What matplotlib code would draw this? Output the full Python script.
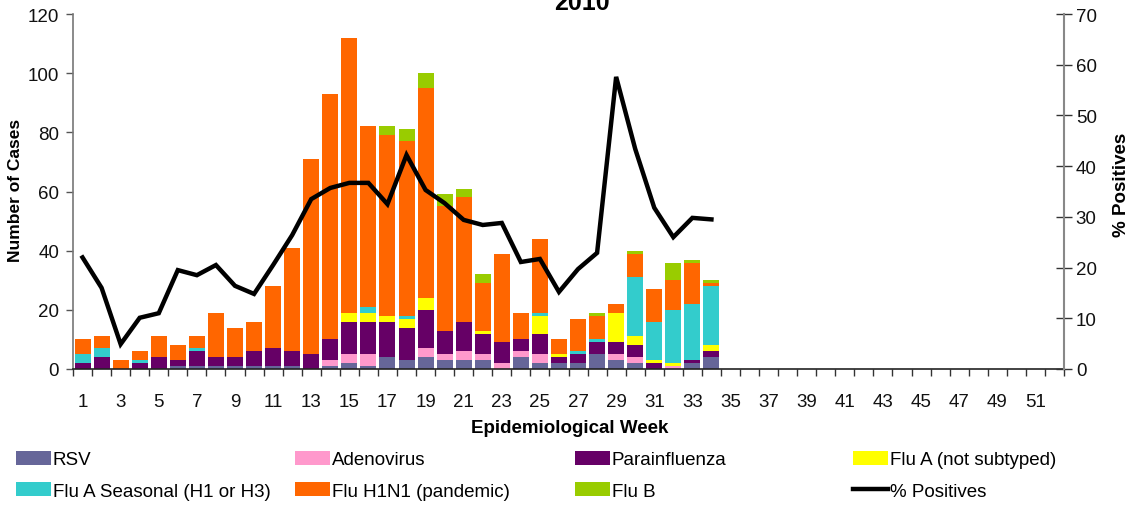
import matplotlib
matplotlib.use("Agg")
import matplotlib.pyplot as plt
import numpy as np
from matplotlib.patches import Patch
from matplotlib.lines import Line2D

plt.rcParams['font.family'] = ['Liberation Sans', 'DejaVu Sans']

weeks = list(range(1, 53))
tick_labels = [str(w) for w in range(1, 53, 2)]

series_names = ["RSV", "Adenovirus", "Parainfluenza", "Flu A (not subtyped)",
                "Flu A Seasonal (H1 or H3)", "Flu H1N1 (pandemic)", "Flu B"]
colors = ["#666699", "#FF99CC", "#660066", "#FFFF00", "#33CCCC", "#FF6600", "#99CC00"]

rsv       = [0,0,0,0,0,1,1,1,1,1,1,1,0,1,2,1,4,3,4,3,3,3,0,4,2,2,2,5,3,2,0,0,2,4]
adeno     = [0,0,0,0,0,0,0,0,0,0,0,0,0,2,3,4,0,0,3,2,3,2,2,2,3,0,0,0,2,2,0,1,0,0]
parainf   = [2,4,0,2,4,2,5,3,3,5,6,5,5,7,11,11,12,11,13,8,10,7,7,4,7,2,3,4,4,4,2,0,1,2]
flua_nt   = [0,0,0,0,0,0,0,0,0,0,0,0,0,0,3,3,2,3,4,0,0,1,0,0,6,1,0,0,10,3,1,1,0,2]
seasonal  = [3,3,0,1,0,0,1,0,0,0,0,0,0,0,0,2,0,1,0,0,0,0,0,0,1,0,1,1,0,20,13,18,19,20]
h1n1      = [5,4,3,3,7,5,4,15,10,10,21,35,66,83,93,61,61,59,71,42,42,16,30,9,25,5,11,8,3,8,11,10,14,1]
flub      = [0,0,0,0,0,0,0,0,0,0,0,0,0,0,0,0,3,4,5,4,3,3,0,0,0,0,0,1,0,1,0,6,1,1]

pct_pos   = [22.0,16.0,4.9,10.1,11.0,19.5,18.5,20.5,16.4,14.8,20.5,26.4,33.5,35.7,36.7,36.7,
             32.5,42.2,35.3,32.7,29.4,28.4,28.8,21.1,21.7,15.2,19.7,22.9,57.6,43.4,31.8,26.0,29.8,29.5]

series = [rsv, adeno, parainf, flua_nt, seasonal, h1n1, flub]

W, H = 1135, 506
fig = plt.figure(figsize=(W/100, H/100), dpi=100)
ax = fig.add_axes([73/W, 1-370/H, (1064-73)/W, (370-15)/H])

n = len(rsv)
x = np.arange(n)
bottom = np.zeros(n)
for vals, col, name in zip(series, colors, series_names):
    v = np.array(vals, dtype=float)
    ax.bar(x, v, width=0.84, bottom=bottom, color=col, label=name, zorder=2)
    bottom += v

ax.set_xlim(-0.5, len(weeks) - 0.5)
ax.set_ylim(0, 120)
ax.set_yticks(range(0, 121, 20))

# x ticks: marks at category boundaries, labels at odd weeks
ax.set_xticks(np.arange(-0.5, len(weeks), 1.0))
ax.set_xticklabels([])
ax.tick_params(axis='x', which='major', direction='out', length=5, width=1, color='#333333')
ax.set_xticks(np.arange(0, len(weeks), 2), minor=True)
ax.set_xticklabels(tick_labels, minor=True)
ax.tick_params(axis='x', which='minor', length=0, pad=17, labelsize=13.5, labelcolor='#111111')
ax.tick_params(axis='y', direction='out', length=5, width=1, color='#555555', pad=5,
               labelsize=13.5, labelcolor='#111111')

for s in ['top', 'right']:
    ax.spines[s].set_visible(False)
ax.spines['left'].set_color('#777777')
ax.spines['left'].set_linewidth(1.2)
ax.spines['bottom'].set_color('#222222')
ax.spines['bottom'].set_linewidth(1.2)

ax2 = ax.twinx()
ax2.plot(x, pct_pos, color='black', lw=3.2, zorder=5, solid_joinstyle='miter')
ax2.set_ylim(0, 70)
ax2.set_yticks(range(0, 71, 10))
ax2.tick_params(axis='y', direction='inout', length=11, width=1, color='#333333', pad=3,
                labelsize=13.5, labelcolor='#111111')
for s in ['top', 'left', 'bottom']:
    ax2.spines[s].set_visible(False)
ax2.spines['right'].set_color('#888888')
ax2.spines['right'].set_linewidth(1.5)

fig.text(582/W, 1-10/H, "2010", ha='center', va='baseline', fontsize=18, fontweight='bold')
fig.text(570/W, 1-429/H, "Epidemiological Week", ha='center', va='center',
         fontsize=13.5, fontweight='bold')
fig.text(16/W, 1-190/H, "Number of Cases", ha='center', va='center', rotation=90,
         fontsize=12.5, fontweight='bold')
fig.text(1122/W, 1-185/H, "% Positives", ha='center', va='center', rotation=90,
         fontsize=13.5, fontweight='bold')

# legend: four columns of two rows
handles = [Patch(facecolor=c, edgecolor='none') for c in colors]
handles.append(Line2D([0], [0], color='black', lw=3.2))
labels = series_names + ["% Positives"]
cols = [(16, [0, 4]), (295, [1, 5]), (575, [2, 6]), (853, [3, 7])]
for xl, idx in cols:
    fig.legend([handles[i] for i in idx], [labels[i] for i in idx],
               loc='upper left', bbox_to_anchor=(xl/W, 1-452/H),
               frameon=False, borderpad=0, borderaxespad=0,
               handlelength=1.85, handleheight=0.75, handletextpad=0.1,
               labelspacing=0.75, fontsize=13.5)

fig.savefig("out.png", dpi=100)
